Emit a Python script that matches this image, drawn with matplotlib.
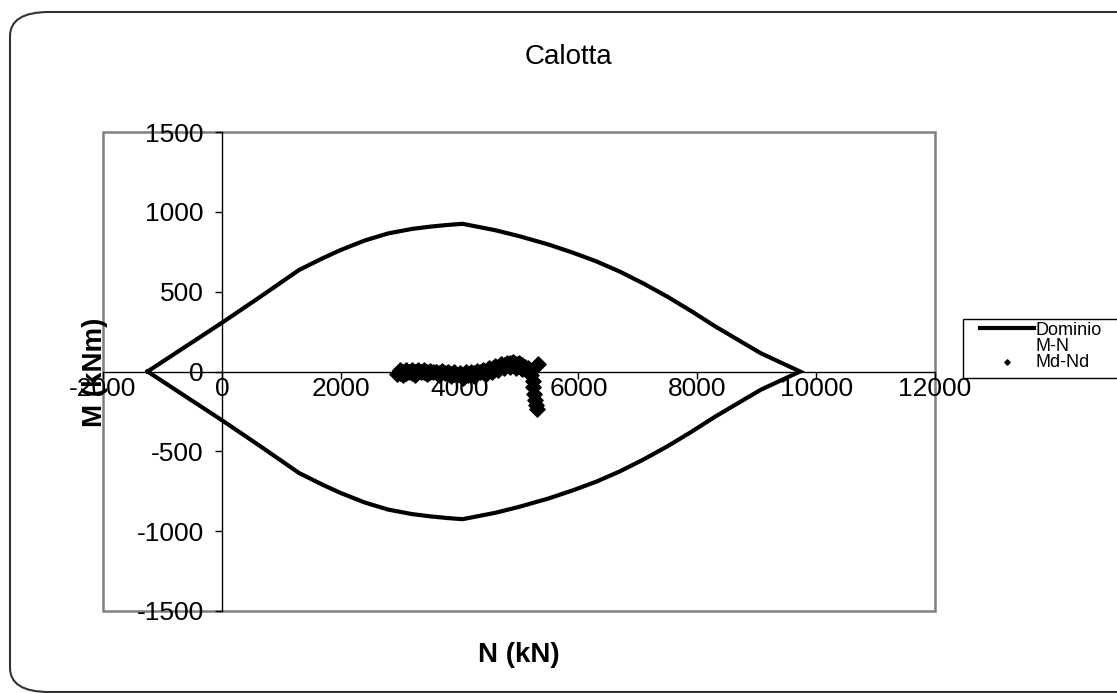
import matplotlib.pyplot as plt
from matplotlib.lines import Line2D
from matplotlib.patches import FancyBboxPatch, Rectangle

plt.rcParams['font.family'] = ['Liberation Sans', 'DejaVu Sans']
plt.rcParams['axes.unicode_minus'] = False

# Dominio M-N (ramo superiore e inferiore)
n_top = [-1250, 0, 600, 1300, 1700, 2000, 2400, 2800, 3200, 3500, 3800, 4050,
         4600, 5000, 5500, 5900, 6300, 6700, 7100, 7500, 7900, 8300, 8700, 9070, 9730]
m_top = [0, 305, 456, 636, 710, 761, 820, 865, 893, 907, 918, 925,
         885, 848, 795, 745, 690, 625, 550, 468, 378, 283, 195, 114, 0]
n_bot = [9730, 9070, 8700, 8300, 7900, 7500, 7100, 6700, 6300, 5900, 5500, 5000,
         4600, 4050, 3800, 3500, 3200, 2800, 2400, 2000, 1700, 1300, 600, 0, -1250]
m_bot = [0, -114, -195, -283, -378, -468, -550, -625, -690, -745, -795, -848,
         -885, -925, -918, -907, -893, -865, -820, -761, -710, -636, -456, -305, 0]

# Sollecitazioni Md-Nd
nd = [2950, 3000, 3050, 3100, 3150, 3200, 3250, 3300, 3350, 3400, 3450, 3500,
      3550, 3600, 3650, 3700, 3750, 3800, 3850, 3900, 3950, 4000, 4050, 4100,
      4150, 4200, 4250, 4300, 4350, 4400, 4450, 4500, 4550, 4600, 4650, 4700,
      4750, 4800, 4850, 4900, 4950, 5000, 5050, 5100, 5150, 5200,
      3000, 3100, 3200, 3300, 3400, 3500, 3600, 3700, 3800, 3900, 4000, 4100,
      4200, 4300, 4400, 4500, 4600, 4700, 4800, 4900, 5000,
      3050, 3250, 3450, 3650, 3850, 4050, 4250, 4450, 4550, 4650, 4750, 4850,
      4950, 5050,
      5320, 5210, 5230, 5240, 5260, 5270, 5290, 5300]
md = [-15, -10, -5, -12, 0, -8, -3, 2, -5, 0, -3, 0,
      -5, -2, -8, -5, -10, -12, -15, -18, -20, -22, -25, -22,
      -20, -15, -12, -8, -5, 0, 5, 8, 15, 20, 28, 35,
      42, 48, 52, 50, 45, 42, 40, 30, 20, 5,
      8, 10, 12, 8, 10, 5, 0, 5, -2, -5, -8, -5,
      0, 5, 12, 20, 32, 45, 55, 60, 55,
      -25, -20, -18, -20, -30, -40, -30, -15, 0, 10, 20, 30,
      25, 15,
      48, -20, -60, -100, -140, -180, -210, -235]

fig = plt.figure(figsize=(11.17, 6.93), dpi=100)
ax = fig.add_axes([103 / 1117, 1 - 611 / 693, 832 / 1117, 479 / 693])

line_dom, = ax.plot(n_top + n_bot, m_top + m_bot, color='black', lw=3,
                    solid_joinstyle='miter')
pts = ax.scatter(nd, md, marker='D', s=60, color='black', zorder=3)

ax.set_xlim(-2000, 12000)
ax.set_ylim(-1500, 1500)
ax.set_xticks(range(-2000, 12001, 2000))
ax.set_yticks(range(-1500, 1501, 500))

for side in ['left', 'bottom']:
    ax.spines[side].set_position(('data', 0))
    ax.spines[side].set_color('black')
    ax.spines[side].set_linewidth(1.0)
for side in ['top', 'right']:
    ax.spines[side].set_visible(False)
ax.add_patch(Rectangle((0, 0), 1, 1, transform=ax.transAxes, fill=False,
                       edgecolor='#808080', lw=1.8, clip_on=False, zorder=0))

ax.tick_params(direction='out', length=5, width=1, colors='black', labelsize=19)
ax.tick_params(axis='x', pad=-1)
ax.tick_params(axis='y', pad=8)

fig.text(568 / 1117, 1 - 57 / 693, 'Calotta', fontsize=20, ha='center', va='center')
fig.text(519 / 1117, 1 - 655 / 693, 'N (kN)', fontsize=20, fontweight='bold',
         ha='center', va='center')
fig.text(95 / 1117, 1 - 372 / 693, 'M (kNm)', fontsize=20, fontweight='bold',
         rotation=90, ha='center', va='center')

# riquadro della legenda (esce dal bordo destro)
fig.patches.append(Rectangle((963 / 1117, 1 - 378 / 693), 200 / 1117, 59 / 693,
                             transform=fig.transFigure, fill=False,
                             edgecolor='black', lw=1.0))
blank = Line2D([], [], linestyle='none')
leg = fig.legend([line_dom, blank, pts], ['Dominio', 'M-N', 'Md-Nd'],
                 loc='upper left', bbox_to_anchor=(977 / 1117, 1 - 319 / 693),
                 fontsize=13, frameon=False, handlelength=3.0,
                 handletextpad=0.1, borderpad=0.15, labelspacing=-0.05,
                 markerscale=0.35, borderaxespad=0)

# cornice arrotondata del grafico
border = FancyBboxPatch((10 / 1117, 1 - 692 / 693), 1.2, 680 / 693,
                        boxstyle='round,pad=0,rounding_size=0.035',
                        transform=fig.transFigure, fill=False,
                        edgecolor='#333333', lw=1.5)
fig.patches.append(border)

fig.savefig('out.png', dpi=100)
